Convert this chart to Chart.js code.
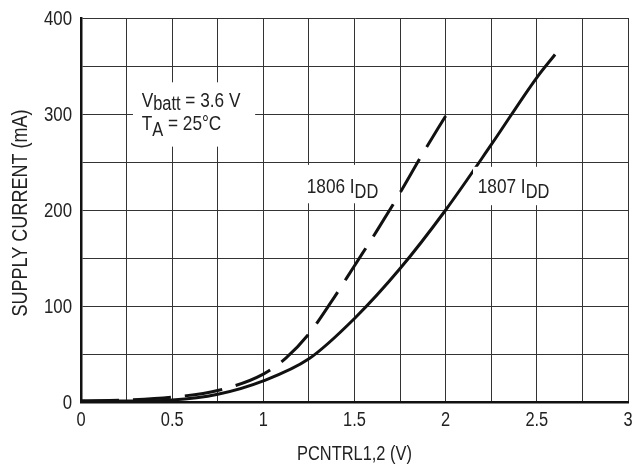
<!DOCTYPE html>
<html>
<head>
<meta charset="utf-8">
<script src="https://cdn.jsdelivr.net/npm/chart.js@4/dist/chart.umd.min.js"></script>
<style>
  html, body { margin: 0; padding: 0; background: #fff; }
  #wrap { width: 632px; height: 471px; }
</style>
</head>
<body>
<div id="wrap"><canvas id="chart" width="632" height="471"></canvas></div>
<script>
// no narrow font installed, so Liberation Sans is squeezed by hand
const FONT = "'Liberation Sans', Arial, sans-serif";
const SQUEEZE = 0.82;

// PCNTRL1,2 (V) vs supply current (mA)
const x1807 = [0, 0.25, 0.5, 0.75, 1.0, 1.25, 1.5, 1.75, 2.0, 2.25, 2.5, 2.6];
const y1807 = [1, 1, 2, 8, 22, 45, 87, 139, 200, 268, 338, 362];
const x1806 = [0, 0.25, 0.5, 0.75, 1.0, 1.125, 1.25, 1.375, 1.5, 1.625, 1.75, 1.875, 2.0];
const y1806 = [1, 2, 5, 12, 29, 46, 71, 105, 142, 179, 218, 259, 298];
const xTicks = [0, 0.5, 1, 1.5, 2, 2.5, 3];
const yTicks = [0, 100, 200, 300, 400];
const xTitle = "PCNTRL1,2 (V)";
const yTitle = "SUPPLY CURRENT (mA)";

const pts = (xs, ys) => xs.map((x, i) => ({ x, y: ys[i] }));

function narrow(ctx, txt, x, y, size, align, rot) {
  ctx.save();
  ctx.translate(x, y);
  if (rot) ctx.rotate(rot);
  ctx.scale(SQUEEZE, 1);
  ctx.font = `${size}px ${FONT}`;
  ctx.textAlign = align;
  ctx.fillText(txt, 0, 0);
  const w = ctx.measureText(txt).width * SQUEEZE;
  ctx.restore();
  return w;
}

// text with subscripts, e.g. V_batt
function subText(ctx, x, y, parts) {
  let cx = x;
  parts.forEach(([txt, sub]) => {
    cx += narrow(ctx, txt, cx, sub ? y + sub : y, sub ? 20 : 21, "left");
  });
}

const texts = {
  id: "texts",
  afterDatasetsDraw(chart) {
    const { ctx, scales } = chart;
    const px = (v) => scales.x.getPixelForValue(v);
    const py = (v) => scales.y.getPixelForValue(v);
    const box = (x0, x1, y0, y1) => {
      ctx.fillStyle = "#fff";
      ctx.fillRect(px(x0), py(y0), px(x1) - px(x0), py(y1) - py(y0));
    };
    ctx.save();
    box(0.285, 0.955, 333, 266);
    box(1.146, 1.722, 247, 207);
    box(2.15, 2.655, 245, 205);
    ctx.fillStyle = "#222";
    ctx.textBaseline = "alphabetic";
    subText(ctx, px(0.333), py(307.6), [["V"], ["batt", 3], [" = 3.6 V"]]);
    subText(ctx, px(0.333), py(283.3), [["T"], ["A", 6], [" = 25°C"]]);
    subText(ctx, px(1.238), py(217.4), [["1806 I"], ["DD", 5]]);
    subText(ctx, px(2.176), py(217.4), [["1807 I"], ["DD", 5]]);
    ctx.restore();
  },
  afterDraw(chart) {
    const { ctx, scales, chartArea } = chart;
    ctx.save();
    ctx.fillStyle = "#222";
    ctx.textBaseline = "alphabetic";
    xTicks.forEach((v) => {
      narrow(ctx, String(v), scales.x.getPixelForValue(v), chartArea.bottom + 24, 20, "center");
    });
    yTicks.forEach((v) => {
      narrow(ctx, String(v), chartArea.left - 9, scales.y.getPixelForValue(v) + 7, 20.5, "right");
    });
    narrow(ctx, xTitle, (chartArea.left + chartArea.right) / 2, chartArea.bottom + 58, 20, "center");
    narrow(ctx, yTitle, 26.5, (chartArea.top + chartArea.bottom) / 2 + 3, 22, "center", -Math.PI / 2);
    ctx.restore();
  },
};

new Chart(document.getElementById("chart"), {
  type: "line",
  data: {
    datasets: [
      {
        label: "1807 IDD",
        data: pts(x1807, y1807),
        borderColor: "#111",
        borderWidth: 3,
        pointRadius: 0,
        cubicInterpolationMode: "monotone",
      },
      {
        label: "1806 IDD",
        data: pts(x1806, y1806),
        borderColor: "#111",
        borderWidth: 3,
        borderDash: [38, 14],
        pointRadius: 0,
        cubicInterpolationMode: "monotone",
      },
    ],
  },
  options: {
    responsive: false,
    animation: false,
    devicePixelRatio: 1,
    layout: { padding: { left: 0, top: 18, right: 4, bottom: 0 } },
    plugins: { legend: { display: false }, tooltip: { enabled: false } },
    scales: {
      x: {
        type: "linear",
        min: 0,
        max: 3,
        afterFit: (s) => { s.height = 69; },
        ticks: { stepSize: 0.25, display: false },
        grid: { color: "#333", lineWidth: 1, drawTicks: false },
        border: { color: "#111", width: 2.5 },
      },
      y: {
        min: 0,
        max: 400,
        afterFit: (s) => { s.width = 81; },
        ticks: { stepSize: 50, display: false },
        grid: { color: "#333", lineWidth: 1, drawTicks: false },
        border: { color: "#111", width: 2.5 },
      },
    },
  },
  plugins: [texts],
});
</script>
</body>
</html>
